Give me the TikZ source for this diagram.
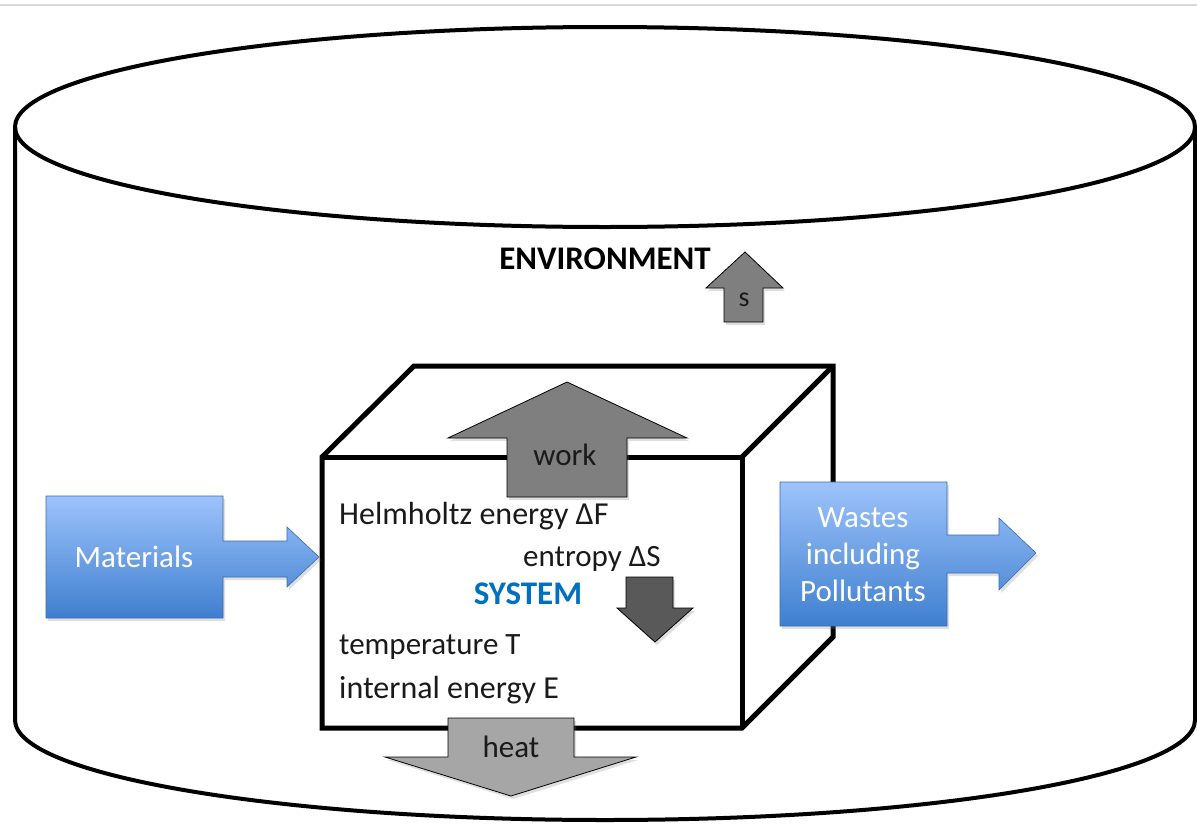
\documentclass[tikz,border=0pt]{standalone}
\usepackage{fontspec}
\setmainfont{Carlito}
\usetikzlibrary{shadows}
\definecolor{bluetop}{HTML}{9DC3FB}
\definecolor{bluebot}{HTML}{3F7FCF}
\definecolor{sysblue}{HTML}{0070C0}
\definecolor{txtgray}{HTML}{1A1A1A}
\definecolor{workgray}{HTML}{7F7F7F}
\definecolor{entgray}{HTML}{595959}
\definecolor{heatgray}{HTML}{A6A6A6}
\definecolor{rulegray}{HTML}{D9D9D9}

\begin{document}
\begin{tikzpicture}[x=1pt,y=-1pt,
  wall/.style={line width=4pt},
  boxline/.style={line width=5pt,line join=miter},
  grayarrow/.style={draw=black,line width=0.8pt,fill=#1,
    drop shadow={opacity=0.25,shadow xshift=2pt,shadow yshift=-3pt}},
  bluearrow/.style={draw=bluebot!85!black,line width=0.6pt,top color=bluetop,bottom color=bluebot,
    drop shadow={opacity=0.25,shadow xshift=2pt,shadow yshift=-3pt}},
  lbl/.style={font=\fontsize{31}{37}\selectfont,text=txtgray,inner sep=0pt},
  bold/.style={font=\fontsize{33}{37}\selectfont\bfseries}]
  \useasboundingbox (0,0) rectangle (1197,825);
  \draw[rulegray,line width=2pt] (0,5) -- (1197,5);
  \draw[wall] (605,127) ellipse [x radius=590, y radius=100];
  \draw[wall] (15,127) -- (15,720) arc[start angle=180,end angle=0,x radius=590,y radius=100] -- (1195,127);
  \draw[boxline,fill=white] (322,457) -- (414,366) -- (833,366) -- (833,637) -- (742,728) -- (322,728) -- cycle;
  \draw[boxline] (322,457) -- (742,457) -- (742,728);
  \draw[boxline] (742,457) -- (833,366);
  \node[lbl,bold,text=black] (env) at (605,259) {ENVIRONMENT};
  \draw[grayarrow=workgray] (724,322) -- (724,288) -- (706,288) -- (745,252) -- (783,288) -- (763,288) -- (763,322) -- cycle;
  \node[lbl,font=\fontsize{28}{32}\selectfont] (s) at (744,300) {s};
  \draw[grayarrow=workgray] (507,497) -- (507,438) -- (448,438) -- (567,382) -- (687,438) -- (627,438) -- (627,497) -- cycle;
  \node[lbl] (work) at (565,455) {work};
  \node[lbl,font=\fontsize{32}{37}\selectfont,anchor=west] (helm) at (339,516) {Helmholtz energy ΔF};
  \node[lbl,anchor=west] (entropy) at (523,559) {entropy ΔS};
  \node[lbl,bold,text=sysblue] (sys) at (528,594) {SYSTEM};
  \draw[grayarrow=entgray] (626,577) -- (673,577) -- (673,608) -- (693,608) -- (655,642) -- (617,608) -- (626,608) -- cycle;
  \node[lbl,anchor=west] (temp) at (339,647) {temperature T};
  \node[lbl,font=\fontsize{32}{37}\selectfont,anchor=west] (inten) at (339,690) {internal energy E};
  \draw[grayarrow=heatgray] (448,718) -- (574,718) -- (574,757) -- (636,757) -- (511,796) -- (385,757) -- (448,757) -- cycle;
  \node[lbl] (heat) at (511,747) {heat};
  \draw[bluearrow] (46,496) -- (223,496) -- (223,541) -- (287,541) -- (287,527) -- (319,557) -- (287,587) -- (287,577) -- (223,577) -- (223,618) -- (46,618) -- cycle;
  \node[lbl,text=white] (mat) at (134,557) {Materials};
  \draw[bluearrow] (780,482) -- (947,482) -- (947,535) -- (999,535) -- (999,518) -- (1036,553) -- (999,590) -- (999,573) -- (947,573) -- (947,626) -- (780,626) -- cycle;
  \node[lbl,text=white,align=center] (waste) at (863,555) {Wastes\\including\\Pollutants};
\end{tikzpicture}
\end{document}
